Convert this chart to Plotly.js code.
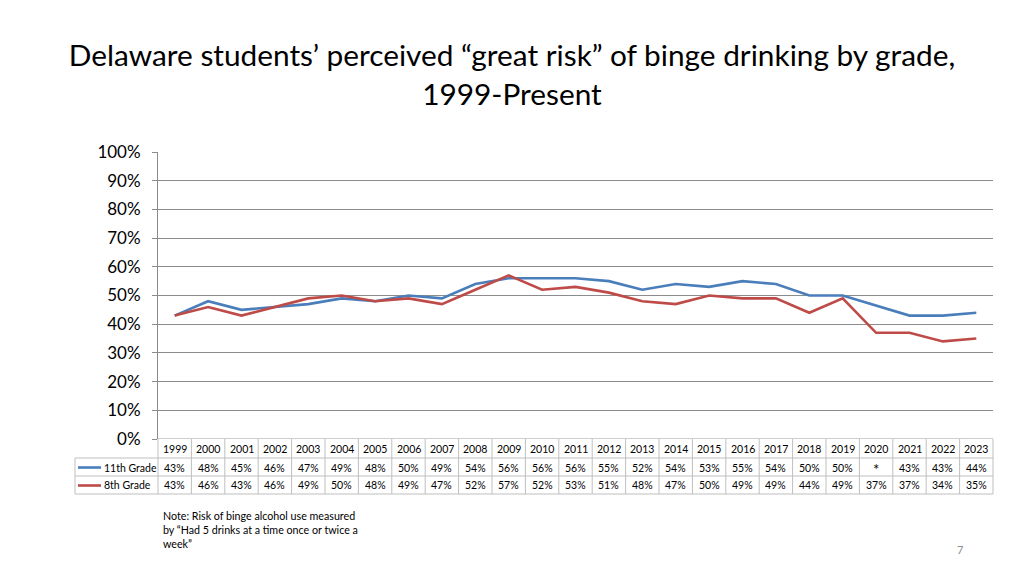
<!DOCTYPE html>
<html>
<head>
<meta charset="utf-8">
<script src="https://cdn.plot.ly/plotly-3.0.1.min.js"></script>
<style>
  html, body { margin: 0; padding: 0; background: #ffffff; }
  #chart { width: 1024px; height: 576px; }
</style>
</head>
<body>
<div id="chart"></div>
<script>
const years = ["1999","2000","2001","2002","2003","2004","2005","2006","2007","2008","2009","2010","2011","2012","2013","2014","2015","2016","2017","2018","2019","2020","2021","2022","2023"];
const grade11 = [43,48,45,46,47,49,48,50,49,54,56,56,56,55,52,54,53,55,54,50,50,null,43,43,44];
const grade8  = [43,46,43,46,49,50,48,49,47,52,57,52,53,51,48,47,50,49,49,44,49,37,37,34,35];
const seriesNames = ["11th Grade", "8th Grade"];
const seriesColors = ["#4a7ebb", "#be4b48"];
const missingMark = "*";

const FONT = "Lato, 'Open Sans', sans-serif";
const gridGray = "#8c8c8c";
const tableGray = "#bfbfbf";

// plot area geometry (pixels) -> paper fractions for the table rows
const plotTop = 152, plotBottom = 439, plotLeft = 158, plotRight = 993;
const plotH = plotBottom - plotTop, plotW = plotRight - plotLeft;
const py = p => (plotBottom - p) / plotH;   // pixel y -> paper y
const px = p => (p - plotLeft) / plotW;     // pixel x -> paper x

const rowLines = [458, 476, 494];
const rowCenters = [449, 467.5, 485.5];

const traces = [
  { x: years, y: grade11.map(v => v === null ? null : v / 100), name: seriesNames[0], type: "scatter", mode: "lines",
    connectgaps: true, line: { color: seriesColors[0], width: 2.6 }, hoverinfo: "skip" },
  { x: years, y: grade8.map(v => v / 100), name: seriesNames[1], type: "scatter", mode: "lines",
    line: { color: seriesColors[1], width: 2.6 }, hoverinfo: "skip" }
];

const shapes = [];
const annotations = [];

// light table top line at 0%
shapes.push({ type: "line", xref: "paper", yref: "y", x0: 0, x1: 1, y0: 0, y1: 0,
  line: { color: tableGray, width: 1.5 }, layer: "above" });

// horizontal row lines
rowLines.forEach(r => {
  shapes.push({ type: "line", xref: "paper", yref: "paper", x0: px(75), x1: 1, y0: py(r), y1: py(r),
    line: { color: tableGray, width: 1 } });
});
// left border of legend column
shapes.push({ type: "line", xref: "paper", yref: "paper", x0: px(75), x1: px(75), y0: py(458), y1: py(494),
  line: { color: tableGray, width: 1 } });
// axis-line extension through the table
shapes.push({ type: "line", xref: "paper", yref: "paper", x0: 0, x1: 0, y0: 0, y1: py(494),
  line: { color: tableGray, width: 1 } });
// right border
shapes.push({ type: "line", xref: "paper", yref: "paper", x0: 1, x1: 1, y0: 0, y1: py(494),
  line: { color: tableGray, width: 1 } });
// column separators between categories
for (let i = 1; i < years.length; i++) {
  shapes.push({ type: "line", xref: "x", yref: "paper", x0: i - 0.5, x1: i - 0.5, y0: 0, y1: py(494),
    line: { color: tableGray, width: 1 } });
}

// year header row (category index positions on the x axis)
years.forEach((yr, i) => {
  annotations.push({ xref: "x", yref: "paper", x: i, y: py(rowCenters[0]), text: yr, showarrow: false,
    font: { family: FONT, size: 10.5, color: "#000" }, xanchor: "center", yanchor: "middle" });
});
// values rows
[grade11, grade8].forEach((arr, k) => {
  arr.forEach((v, i) => {
    annotations.push({ xref: "x", yref: "paper", x: i, y: py(rowCenters[k + 1] + (v === null ? 1.5 : 0)),
      text: v === null ? missingMark : v + "%", showarrow: false,
      font: { family: FONT, size: v === null ? 15 : 10.5, color: "#000" }, xanchor: "center", yanchor: "middle" });
  });
  // legend key line + label
  shapes.push({ type: "line", xref: "paper", yref: "paper", x0: px(78), x1: px(101),
    y0: py(rowCenters[k + 1]), y1: py(rowCenters[k + 1]), line: { color: seriesColors[k], width: 2.6 } });
  annotations.push({ xref: "paper", yref: "paper", x: px(101.5), y: py(rowCenters[k + 1]), text: seriesNames[k],
    showarrow: false, font: { family: FONT, size: 10.5, color: "#000" }, xanchor: "left", yanchor: "middle" });
});

// note
annotations.push({ xref: "paper", yref: "paper", x: px(161), y: py(507), xanchor: "left", yanchor: "top", align: "left",
  showarrow: false, text: "Note: Risk of binge alcohol use measured<br>by “Had 5 drinks at a time once or twice a<br>week”",
  font: { family: FONT, size: 10.7, color: "#000" } });
// page number
annotations.push({ xref: "paper", yref: "paper", x: px(960), y: py(549), xanchor: "center", yanchor: "middle",
  showarrow: false, text: "7", font: { family: FONT, size: 11, color: "#8c8c8c" } });

const layout = {
  width: 1024, height: 576,
  paper_bgcolor: "#ffffff", plot_bgcolor: "#ffffff",
  margin: { l: plotLeft, r: 1024 - plotRight, t: plotTop, b: 576 - plotBottom, pad: 0 },
  showlegend: false,
  title: {
    text: "Delaware students’ perceived “great risk” of binge drinking by grade,<br>1999-Present",
    font: { family: FONT, size: 29.8, color: "#000" },
    x: 0.5, xref: "container", xanchor: "center", y: 0.885, yref: "container", yanchor: "top"
  },
  xaxis: {
    type: "category", range: [-0.5, years.length - 0.5],
    showticklabels: false, showgrid: false, zeroline: false, showline: false, ticks: ""
  },
  yaxis: {
    range: [0, 1], tickvals: [0,0.1,0.2,0.3,0.4,0.5,0.6,0.7,0.8,0.9,1.0],
    tickformat: ".0%", showgrid: true, gridcolor: gridGray, gridwidth: 1,
    zeroline: false, showline: true, linecolor: gridGray, linewidth: 1,
    ticks: "outside", ticklen: 5, tickcolor: gridGray, ticklabelstandoff: 8,
    tickfont: { family: FONT, size: 17, color: "#000" }
  },
  shapes: shapes,
  annotations: annotations
};

Plotly.newPlot("chart", traces, layout, { displayModeBar: false, staticPlot: true });
</script>
</body>
</html>
